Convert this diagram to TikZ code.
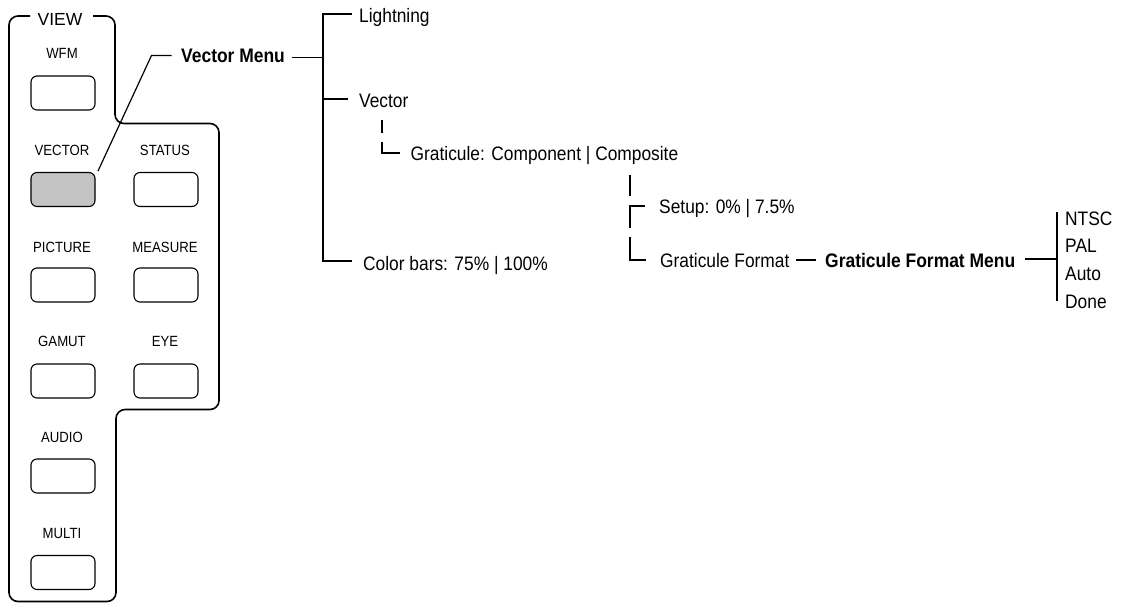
\documentclass[tikz,border=0pt]{standalone}
\usepackage{fontspec}
\setmainfont{Liberation Sans}[FakeStretch=0.89]
\newfontfamily\widefont{Liberation Sans}
\begin{document}
\begin{tikzpicture}[x=1pt,y=-1pt,
  panel/.style={line width=1.6pt, rounded corners=9pt},
  btn/.style={draw, line width=1.1pt, rounded corners=6pt, minimum width=64pt, minimum height=34pt, inner sep=0pt},
  btnlabel/.style={font=\fontsize{14.8}{16}\selectfont, inner sep=0pt, anchor=base},
  item/.style={font=\fontsize{19.5}{22}\selectfont, inner sep=0pt, anchor=base west},
  bolditem/.style={font=\fontsize{19.6}{22}\selectfont\bfseries, inner sep=0pt, anchor=base west},
  tree/.style={line width=1.1pt},
  leader/.style={line width=1.2pt}]
\useasboundingbox (0,0) rectangle (1121,603);

% panel outline
\draw[panel] (30,16) -- (9,16) -- (9,601.5) -- (116,601.5) -- (116,409.5)
  -- (219,409.5) -- (219,123.5) -- (115,123.5) -- (115,16) -- (93,16);
\node[inner sep=0pt, anchor=base, font=\widefont\fontsize{17.5}{20}\selectfont] (view) at (60,25) {VIEW};

% buttons
\node[btn] (wfm) at (63,93) {};
\node[btn, fill=black!23] (vecbtn) at (63,189.5) {};
\node[btn] (status) at (166,189.5) {};
\node[btn] (picture) at (63,285) {};
\node[btn] (measure) at (166,285) {};
\node[btn] (gamut) at (63,381) {};
\node[btn] (eye) at (166,381) {};
\node[btn] (audio) at (63,476) {};
\node[btn] (multi) at (63,572.5) {};

\node[btnlabel] (lwfm) at (62,58) {WFM};
\node[btnlabel] (lvector) at (62,155) {VECTOR};
\node[btnlabel] (lstatus) at (165,155) {STATUS};
\node[btnlabel] (lpicture) at (62,252) {PICTURE};
\node[btnlabel] (lmeasure) at (165,252) {MEASURE};
\node[btnlabel] (lgamut) at (62,346) {GAMUT};
\node[btnlabel] (leye) at (165,346) {EYE};
\node[btnlabel] (laudio) at (62,442) {AUDIO};
\node[btnlabel] (lmulti) at (62,538) {MULTI};

% vector menu
\node[bolditem] (vmenu) at (181,62.3) {Vector Menu};
\coordinate (lead0) at (98,171);
\coordinate (lead1) at (151.5,55.5);
\coordinate (lead2) at (171.5,55.5);
\draw[leader] (lead0) -- (lead1) -- (lead2);

% trunk
\coordinate (vm1) at (291.5,57.5);
\coordinate (vm2) at (323,57.5);
\coordinate (ttop) at (323,14);
\coordinate (tbot) at (323,261);
\coordinate (tl) at (352,14);
\coordinate (tc) at (352,261);
\coordinate (tv0) at (323,99);
\coordinate (tv) at (348,99);
\draw[tree] (vm1) -- (vm2);
\draw[tree] (tl) -- (ttop) -- (tbot) -- (tc);
\draw[tree] (tv0) -- (tv);

\node[item] (light) at (359,22) {Lightning};
\node[item] (vector) at (359,107.5) {Vector};
\node[item] (colbars) at (363,270) {Color bars: 75\% | 100\%};

% vector subtree
\coordinate (s1a) at (382,120);
\coordinate (s1b) at (382,133);
\coordinate (s2a) at (382,142);
\coordinate (s2b) at (382,153);
\coordinate (s2c) at (400,153);
\draw[tree] (s1a) -- (s1b);
\draw[tree] (s2a) -- (s2b) -- (s2c);
\node[item] (grat) at (410.5,160.5) {Graticule: Component | Composite};

% composite subtree
\coordinate (c1a) at (630,175);
\coordinate (c1b) at (630,196);
\coordinate (c2a) at (645,206);
\coordinate (c2b) at (630,206);
\coordinate (c2c) at (630,228);
\coordinate (c3a) at (630,237);
\coordinate (c3b) at (630,260);
\coordinate (c3c) at (646,260);
\draw[tree] (c1a) -- (c1b);
\draw[tree] (c2a) -- (c2b) -- (c2c);
\draw[tree] (c3a) -- (c3b) -- (c3c);
\node[item] (setup) at (659,213) {Setup: 0\% | 7.5\%};
\node[item] (gfmt) at (660,267) {Graticule Format};

\coordinate (d1a) at (796,260);
\coordinate (d1b) at (816,260);
\draw[tree] (d1a) -- (d1b);
\node[bolditem] (gfmenu) at (825,267) {Graticule Format Menu};
\coordinate (d2a) at (1025,259);
\coordinate (d2b) at (1057,259);
\coordinate (bartop) at (1057,212);
\coordinate (barbot) at (1057,301);
\draw[tree] (d2a) -- (d2b);
\draw[tree] (bartop) -- (barbot);

\node[item] (ntsc) at (1065,225) {NTSC};
\node[item] (pal) at (1065,252) {PAL};
\node[item] (auto) at (1065,280) {Auto};
\node[item] (done) at (1065,308) {Done};
\end{tikzpicture}
\end{document}
